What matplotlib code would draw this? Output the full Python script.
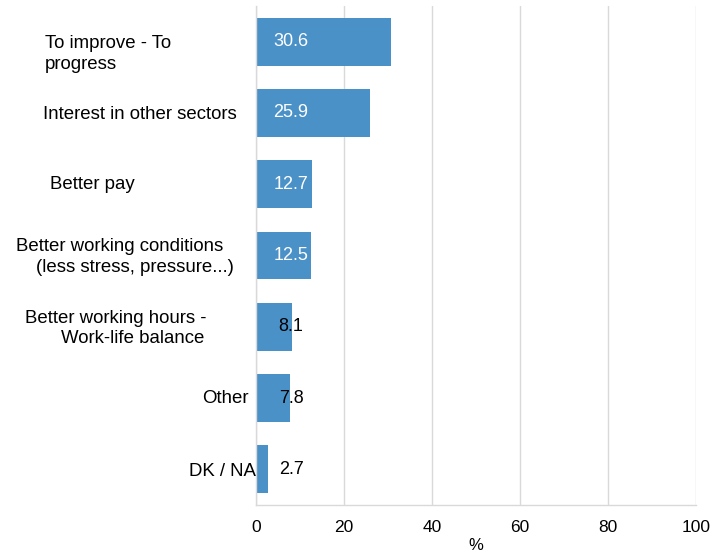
import matplotlib.pyplot as plt

plt.rcParams['font.family'] = ['Liberation Sans', 'DejaVu Sans']

# datos
categorias = ['To improve - To\nprogress',
              'Interest in other sectors',
              'Better pay',
              'Better working conditions\n(less stress, pressure...)',
              'Better working hours -\nWork-life balance',
              'Other',
              'DK / NA']
valores = [30.6, 25.9, 12.7, 12.5, 8.1, 7.8, 2.7]
ticks_x = [0, 20, 40, 60, 80, 100]

# posicion de cada linea de etiqueta: (x en px desde el eje, desplazamiento de la linea base en px)
pos_lineas = [[(-211, 6), (-211, 27)],
              [(-213, 6)],
              [(-206, 5)],
              [(-240, -4), (-220, 17)],
              [(-231, -4), (-195, 16)],
              [(-54, 5)],
              [(-67, 7)]]
color_texto = ['white', 'white', 'white', 'white', 'black', 'black', 'black']

color_barra = '#4a91c8'
color_grid = '#d9d9d9'

fig = plt.figure(figsize=(7.15, 5.57), dpi=100)
ax = fig.add_axes([256 / 715, 52 / 557, 440 / 715, 499 / 557])

y = list(range(len(valores)))
ax.barh(y, valores, height=0.67, color=color_barra, zorder=2)

ax.set_xlim(0, 100)
ax.set_ylim(len(valores) - 0.5, -0.5)
ax.set_xticks(ticks_x)
ax.set_yticks([])
ax.xaxis.grid(True, color=color_grid, linewidth=1, zorder=0)
ax.tick_params(axis='x', length=0, pad=11, labelsize=12.5)

for lado in ['top', 'right']:
    ax.spines[lado].set_visible(False)
for lado in ['left', 'bottom']:
    ax.spines[lado].set_color(color_grid)
    ax.spines[lado].set_linewidth(1)

# etiquetas de categorias
for i, cat in enumerate(categorias):
    for linea, (dx, dy) in zip(cat.split('\n'), pos_lineas[i]):
        ax.annotate(linea, xy=(0, i), xycoords=('axes fraction', 'data'),
                    xytext=(dx, -dy), textcoords='offset pixels',
                    ha='left', va='baseline', fontsize=13.4, color='black',
                    annotation_clip=False)

# valores
for i, v in enumerate(valores):
    ax.annotate(f'{v:.1f}', xy=(0, i), xycoords='data',
                xytext=(35, 0), textcoords='offset pixels',
                ha='center', va='center', fontsize=13, color=color_texto[i],
                zorder=3)

ax.set_xlabel('%', fontsize=12, labelpad=2)

plt.savefig('out.png', dpi=100)
